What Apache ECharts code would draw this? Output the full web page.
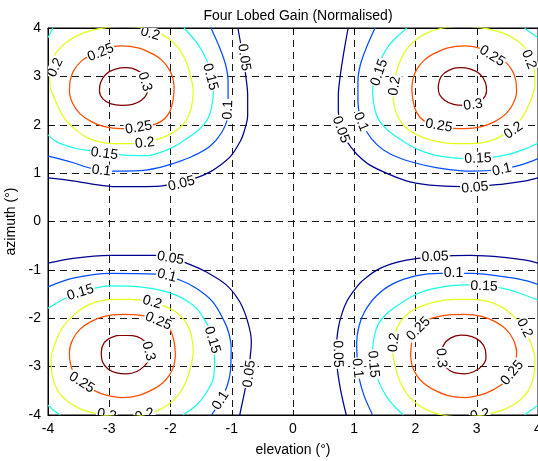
<!DOCTYPE html>
<html>
<head>
<meta charset="utf-8">
<script src="https://cdn.jsdelivr.net/npm/echarts@6/dist/echarts.min.js"></script>
<style>
  html, body { margin: 0; padding: 0; background: #fff; }
  #chart { width: 538px; height: 461px; }
</style>
</head>
<body>
<div id="chart"></div>
<script>
// Contour levels of the normalised gain
const levels = [0.05, 0.1, 0.15, 0.2, 0.25, 0.3];
const levelText = ['0.05', '0.1', '0.15', '0.2', '0.25', '0.3'];
const tickValues = [-4, -3, -2, -1, 0, 1, 2, 3, 4];

// ---- top-left lobe: [elevation, azimuth] ----
const tl05 = [[-0.90,4.0],[-0.83,3.5],[-0.77,3.0],[-0.74,2.6],[-0.74,2.2],[-0.80,1.85],[-0.86,1.66],[-1.01,1.36],[-1.2,1.15],[-1.36,1.02],[-1.58,0.90],[-1.9,0.80],[-2.17,0.73],[-2.5,0.72],[-2.9,0.72],[-3.3,0.78],[-3.6,0.84],[-4.0,0.90]];
const tl10 = [[-1.34,4.0],[-1.20,3.6],[-1.10,3.24],[-1.06,2.89],[-1.06,2.48],[-1.07,2.15],[-1.17,1.83],[-1.36,1.55],[-1.64,1.35],[-1.95,1.20],[-2.17,1.12],[-2.5,1.05],[-2.9,1.04],[-3.3,1.1],[-3.6,1.22],[-4.0,1.35]];
const tl15 = [[-1.78,4.0],[-1.55,3.66],[-1.40,3.31],[-1.33,2.98],[-1.30,2.69],[-1.33,2.35],[-1.40,2.10],[-1.55,1.88],[-1.74,1.71],[-1.94,1.55],[-2.14,1.44],[-2.40,1.36],[-2.75,1.37],[-3.05,1.42],[-3.35,1.47],[-3.6,1.53],[-3.85,1.64],[-4.0,1.79]];
const tl15c = [[-3.92,4.0],[-3.96,3.9],[-4.0,3.80]];
const tl20 = [[-2.44,4.0],[-2.25,3.93],[-2.05,3.8],[-1.88,3.6],[-1.76,3.35],[-1.67,3.0],[-1.63,2.69],[-1.66,2.35],[-1.74,2.1],[-1.88,1.9],[-2.10,1.75],[-2.36,1.65],[-2.64,1.61],[-2.92,1.61],[-3.18,1.65],[-3.38,1.75],[-3.57,1.92],[-3.75,2.17],[-3.88,2.5],[-3.97,2.85],[-3.97,3.2],[-3.86,3.5],[-3.68,3.72],[-3.46,3.88],[-3.22,3.97],[-3.0,4.02],[-2.72,4.04],[-2.44,4.0]];
const tl25 = [[-1.94,2.77],[-1.97,3.0],[-2.04,3.18],[-2.14,3.33],[-2.27,3.45],[-2.53,3.59],[-2.81,3.63],[-3.05,3.58],[-3.25,3.48],[-3.45,3.32],[-3.58,3.12],[-3.64,2.9],[-3.65,2.69],[-3.60,2.45],[-3.48,2.23],[-3.30,2.07],[-3.08,1.96],[-2.80,1.92],[-2.55,1.93],[-2.32,1.98],[-2.14,2.08],[-2.02,2.25],[-1.96,2.5],[-1.94,2.77]];
const tl30 = [[-2.37,2.79],[-2.42,3.0],[-2.55,3.13],[-2.72,3.18],[-2.90,3.15],[-3.05,3.05],[-3.14,2.88],[-3.16,2.70],[-3.10,2.53],[-2.97,2.43],[-2.80,2.40],[-2.62,2.42],[-2.48,2.50],[-2.39,2.63],[-2.37,2.79]];

// ---- top-right lobe ----
const tr05 = [[0.90,4.0],[0.83,3.5],[0.77,3.0],[0.74,2.6],[0.74,2.3],[0.77,2.0],[0.85,1.72],[0.94,1.55],[1.05,1.38],[1.25,1.17],[1.58,0.97],[1.91,0.82],[2.36,0.74],[2.92,0.72],[3.46,0.78],[3.8,0.84],[4.0,0.90]];
const tr10 = [[1.34,4.0],[1.20,3.6],[1.10,3.24],[1.06,2.89],[1.06,2.48],[1.09,2.21],[1.20,1.86],[1.37,1.59],[1.58,1.40],[1.91,1.24],[2.36,1.11],[2.92,1.04],[3.40,1.08],[3.75,1.18],[4.0,1.30]];
const tr15 = [[1.86,4.0],[1.58,3.66],[1.42,3.31],[1.33,2.98],[1.30,2.69],[1.33,2.35],[1.40,2.10],[1.55,1.88],[1.74,1.71],[1.94,1.55],[2.14,1.44],[2.40,1.35],[2.81,1.30],[3.20,1.32],[3.55,1.40],[3.85,1.53],[4.0,1.62]];
const tr15c = [[3.78,4.0],[3.86,3.92],[3.93,3.86],[4.0,3.80]];
const tr20 = [[2.44,4.0],[2.25,3.93],[2.05,3.8],[1.88,3.6],[1.76,3.35],[1.67,3.0],[1.63,2.69],[1.66,2.35],[1.74,2.1],[1.88,1.9],[2.10,1.75],[2.36,1.65],[2.64,1.61],[2.92,1.61],[3.18,1.65],[3.38,1.75],[3.57,1.92],[3.75,2.17],[3.88,2.5],[3.95,2.85],[3.93,3.2],[3.84,3.5],[3.68,3.72],[3.46,3.88],[3.22,3.97],[3.0,4.02],[2.72,4.04],[2.44,4.0]];
const tr25 = [[1.94,2.77],[1.97,3.0],[2.04,3.18],[2.14,3.33],[2.27,3.45],[2.53,3.59],[2.81,3.63],[3.05,3.58],[3.25,3.48],[3.45,3.32],[3.58,3.12],[3.64,2.9],[3.65,2.69],[3.60,2.45],[3.48,2.23],[3.30,2.07],[3.08,1.96],[2.80,1.92],[2.55,1.93],[2.32,1.98],[2.14,2.08],[2.02,2.25],[1.96,2.5],[1.94,2.77]];
const tr30 = [[2.37,2.79],[2.42,3.0],[2.55,3.13],[2.72,3.18],[2.90,3.15],[3.05,3.05],[3.14,2.88],[3.16,2.70],[3.10,2.53],[2.97,2.43],[2.80,2.40],[2.62,2.42],[2.48,2.50],[2.39,2.63],[2.37,2.79]];

// ---- bottom-left lobe ----
const bl05 = [[-0.87,-4.0],[-0.79,-3.52],[-0.74,-3.2],[-0.70,-2.82],[-0.68,-2.48],[-0.74,-2.07],[-0.87,-1.66],[-1.09,-1.31],[-1.42,-1.04],[-1.74,-0.86],[-1.95,-0.76],[-2.23,-0.70],[-2.99,-0.70],[-3.59,-0.76],[-4.0,-0.86]];
const bl10 = [[-1.33,-4.0],[-1.18,-3.7],[-1.07,-3.38],[-1.02,-3.07],[-1.01,-2.6],[-1.05,-2.3],[-1.12,-2.07],[-1.31,-1.66],[-1.58,-1.38],[-1.85,-1.21],[-2.23,-1.09],[-2.99,-1.07],[-3.59,-1.17],[-4.0,-1.35]];
const bl15 = [[-1.80,-4.0],[-1.58,-3.8],[-1.42,-3.55],[-1.30,-3.24],[-1.28,-2.90],[-1.31,-2.45],[-1.37,-2.2],[-1.44,-2.04],[-1.58,-1.79],[-1.80,-1.59],[-2.07,-1.45],[-2.50,-1.35],[-2.99,-1.33],[-3.21,-1.37],[-3.6,-1.52],[-4.0,-1.79]];
const bl15c = [[-4.0,-3.80],[-3.91,-3.9],[-3.80,-4.0]];
const bl20 = [[-2.44,-4.0],[-2.25,-3.93],[-2.05,-3.8],[-1.88,-3.6],[-1.76,-3.35],[-1.67,-3.0],[-1.63,-2.69],[-1.66,-2.35],[-1.74,-2.1],[-1.88,-1.9],[-2.10,-1.75],[-2.36,-1.65],[-2.64,-1.61],[-2.92,-1.61],[-3.18,-1.65],[-3.38,-1.75],[-3.57,-1.92],[-3.75,-2.17],[-3.88,-2.5],[-3.95,-2.85],[-3.93,-3.2],[-3.84,-3.5],[-3.68,-3.72],[-3.46,-3.88],[-3.22,-3.97],[-3.0,-4.02],[-2.72,-4.04],[-2.44,-4.0]];
const bl25 = [[-1.92,-2.77],[-1.95,-3.0],[-2.02,-3.18],[-2.13,-3.34],[-2.27,-3.46],[-2.53,-3.6],[-2.79,-3.64],[-3.05,-3.59],[-3.25,-3.49],[-3.45,-3.33],[-3.58,-3.13],[-3.64,-2.9],[-3.65,-2.69],[-3.60,-2.45],[-3.48,-2.23],[-3.30,-2.07],[-3.08,-1.96],[-2.80,-1.92],[-2.55,-1.93],[-2.32,-1.98],[-2.13,-2.08],[-2.00,-2.25],[-1.94,-2.5],[-1.92,-2.77]];
const bl30 = [[-2.34,-2.75],[-2.38,-2.55],[-2.48,-2.42],[-2.62,-2.36],[-2.8,-2.35],[-2.97,-2.4],[-3.08,-2.5],[-3.13,-2.7],[-3.11,-2.9],[-3.02,-3.05],[-2.88,-3.13],[-2.72,-3.15],[-2.55,-3.1],[-2.42,-2.98],[-2.35,-2.85],[-2.34,-2.75]];

// ---- bottom-right lobe ----
const br05 = [[0.87,-4.0],[0.78,-3.5],[0.72,-3.0],[0.71,-2.6],[0.74,-2.2],[0.80,-1.9],[0.88,-1.65],[1.0,-1.42],[1.12,-1.24],[1.42,-0.97],[1.85,-0.80],[2.3,-0.73],[2.9,-0.70],[3.45,-0.74],[3.8,-0.80],[4.0,-0.86]];
const br10 = [[1.30,-4.0],[1.16,-3.6],[1.08,-3.24],[1.05,-2.89],[1.04,-2.5],[1.08,-2.15],[1.17,-1.86],[1.36,-1.54],[1.63,-1.29],[2.02,-1.12],[2.4,-1.07],[2.94,-1.07],[3.49,-1.15],[3.8,-1.22],[4.0,-1.30]];
const br15 = [[1.80,-4.0],[1.55,-3.66],[1.40,-3.31],[1.32,-2.98],[1.30,-2.69],[1.33,-2.35],[1.40,-2.10],[1.55,-1.88],[1.74,-1.71],[1.94,-1.55],[2.14,-1.44],[2.40,-1.36],[2.81,-1.31],[3.20,-1.33],[3.55,-1.42],[3.85,-1.55],[4.0,-1.62]];
const br15c = [[3.78,-4.0],[3.86,-3.92],[3.93,-3.86],[4.0,-3.80]];
const br20 = [[2.44,-4.0],[2.25,-3.93],[2.05,-3.8],[1.88,-3.6],[1.76,-3.35],[1.67,-3.0],[1.63,-2.69],[1.66,-2.35],[1.74,-2.1],[1.88,-1.9],[2.10,-1.75],[2.36,-1.65],[2.64,-1.61],[2.92,-1.61],[3.18,-1.65],[3.38,-1.75],[3.57,-1.92],[3.75,-2.17],[3.88,-2.5],[3.95,-2.85],[3.93,-3.2],[3.84,-3.5],[3.68,-3.72],[3.46,-3.88],[3.22,-3.97],[3.0,-4.02],[2.72,-4.04],[2.44,-4.0]];
const br25 = [[1.92,-2.77],[1.95,-3.0],[2.02,-3.18],[2.13,-3.34],[2.27,-3.46],[2.53,-3.6],[2.81,-3.64],[3.05,-3.59],[3.25,-3.49],[3.45,-3.33],[3.58,-3.13],[3.64,-2.9],[3.65,-2.69],[3.60,-2.45],[3.48,-2.23],[3.30,-2.07],[3.08,-1.96],[2.80,-1.92],[2.55,-1.93],[2.32,-1.98],[2.13,-2.08],[2.00,-2.25],[1.94,-2.5],[1.92,-2.77]];
const br30 = [[2.42,-2.75],[2.46,-2.55],[2.57,-2.41],[2.74,-2.35],[2.92,-2.38],[3.06,-2.48],[3.14,-2.65],[3.15,-2.82],[3.09,-2.98],[2.96,-3.1],[2.8,-3.15],[2.62,-3.12],[2.5,-3.02],[2.43,-2.9],[2.42,-2.75]];

// Inline contour labels: [level index, elevation, azimuth]
const labelSpots = [
  [3,-2.33,3.88],[4,-3.14,3.49],[3,-3.88,3.18],[5,-2.42,2.89],[2,-1.35,2.99],[0,-0.80,3.39],
  [1,-1.06,2.31],[4,-2.52,1.94],[3,-2.42,1.62],[2,-3.08,1.40],[1,-3.13,1.05],[0,-1.82,0.78],
  [2,1.41,3.08],[3,1.66,2.80],[0,0.78,1.90],[1,1.11,2.06],[4,3.25,3.42],[3,3.85,3.35],
  [5,2.94,2.41],[4,2.38,1.98],[3,3.60,1.88],[2,3.02,1.30],[1,3.41,1.07],[0,2.97,0.70],
  [0,-2.0,-0.76],[1,-2.06,-1.12],[2,-3.47,-1.47],[3,-2.30,-1.67],[4,-2.20,-2.06],[5,-2.36,-2.68],
  [2,-1.32,-2.45],[0,-0.71,-3.15],[1,-1.18,-3.70],[4,-3.45,-3.33],[3,-3.04,-4.0],[3,-2.42,-4.0],
  [0,2.32,-0.73],[1,2.62,-1.07],[2,3.12,-1.34],[3,3.78,-2.20],[4,2.05,-2.22],[3,1.65,-2.50],
  [5,2.42,-2.82],[2,1.31,-2.95],[1,1.05,-3.03],[0,0.73,-2.74],[4,3.58,-3.13],[3,3.05,-4.0]
];

// jet colours for the six levels
const levelColors = ['#00008f', '#004dff', '#1affe6', '#e6ff1a', '#ff4d00', '#800000'];

const contourSets = [
  [tl05, tr05, bl05, br05],
  [tl10, tr10, bl10, br10],
  [tl15, tl15c, tr15, tr15c, bl15, bl15c, br15, br15c],
  [tl20, tr20, bl20, br20],
  [tl25, tr25, bl25, br25],
  [tl30, tr30, bl30, br30]
];

const FONT = '14px "Liberation Sans", Arial, Helvetica, sans-serif';

function segDist(p, a, b) {
  const dx = b[0] - a[0], dy = b[1] - a[1];
  const len2 = dx * dx + dy * dy;
  let t = len2 ? ((p[0] - a[0]) * dx + (p[1] - a[1]) * dy) / len2 : 0;
  t = Math.max(0, Math.min(1, t));
  const qx = a[0] + t * dx, qy = a[1] + t * dy;
  return Math.hypot(p[0] - qx, p[1] - qy);
}

const lineSeries = [];
contourSets.forEach((set, li) => {
  set.forEach(curve => {
    lineSeries.push({
      type: 'line',
      name: levelText[li],
      data: curve,
      showSymbol: false,
      symbol: 'none',
      smooth: 0.35,
      clip: true,
      silent: true,
      z: 3,
      lineStyle: { color: levelColors[li], width: 1.25 }
    });
  });
});

const labelSeries = {
  type: 'custom',
  coordinateSystem: 'cartesian2d',
  clip: true,
  silent: true,
  z: 6,
  data: labelSpots.map(s => [s[1], s[2], s[0]]),
  renderItem: function (params, api) {
    const li = api.value(2);
    const p = api.coord([api.value(0), api.value(1)]);
    let best = Infinity, ang = 0;
    contourSets[li].forEach(curve => {
      for (let i = 0; i < curve.length - 1; i++) {
        const a = api.coord(curve[i]);
        const b = api.coord(curve[i + 1]);
        const d = segDist(p, a, b);
        if (d < best) {
          best = d;
          ang = Math.atan2(-(b[1] - a[1]), b[0] - a[0]);
        }
      }
    });
    if (ang > Math.PI / 2) ang -= Math.PI;
    else if (ang <= -Math.PI / 2) ang += Math.PI;
    return {
      type: 'text',
      x: p[0],
      y: p[1],
      rotation: ang,
      style: {
        text: levelText[li],
        font: FONT,
        fill: '#000',
        align: 'center',
        verticalAlign: 'middle',
        backgroundColor: '#fff',
        padding: [0, 1]
      }
    };
  }
};

const axisCommon = {
  type: 'value',
  min: -4,
  max: 4,
  interval: 1,
  axisLine: { show: true, onZero: false, lineStyle: { color: '#000', width: 1 } },
  axisTick: { show: true, inside: true, length: 5, lineStyle: { color: '#000' } },
  axisLabel: { color: '#000', fontSize: 14, fontFamily: '"Liberation Sans", Arial, sans-serif' },
  splitLine: { show: true, lineStyle: { color: '#1a1a1a', type: [7, 5], width: 1 } }
};

const chart = echarts.init(document.getElementById('chart'), null, { renderer: 'canvas' });
chart.setOption({
  animation: false,
  backgroundColor: '#fff',
  title: {
    text: 'Four Lobed Gain (Normalised)',
    left: 293,
    top: 4,
    textAlign: 'center',
    textStyle: { color: '#000', fontSize: 14, fontWeight: 'normal', fontFamily: '"Liberation Sans", Arial, sans-serif' }
  },
  grid: {
    left: 48, right: 0, top: 28, bottom: 46,
    containLabel: false,
    outerBoundsMode: 'none',
    show: true, borderColor: '#000', borderWidth: 1
  },
  xAxis: [
    Object.assign({}, axisCommon, {
      position: 'bottom',
      name: 'elevation (°)',
      nameLocation: 'middle',
      nameGap: 28,
      nameTextStyle: { color: '#000', fontSize: 14, fontFamily: '"Liberation Sans", Arial, sans-serif' },
      axisLabel: Object.assign({}, axisCommon.axisLabel, { margin: 7, formatter: v => tickValues.includes(v) ? String(v) : '' })
    }),
    Object.assign({}, axisCommon, {
      position: 'top',
      axisLabel: { show: false },
      splitLine: { show: false }
    })
  ],
  yAxis: [
    Object.assign({}, axisCommon, {
      position: 'left',
      name: 'azimuth (°)',
      nameLocation: 'middle',
      nameGap: 28,
      nameTextStyle: { color: '#000', fontSize: 14, fontFamily: '"Liberation Sans", Arial, sans-serif' },
      axisLabel: Object.assign({}, axisCommon.axisLabel, { margin: 7 })
    })
  ],
  series: lineSeries.concat([labelSeries])
});
</script>
</body>
</html>
